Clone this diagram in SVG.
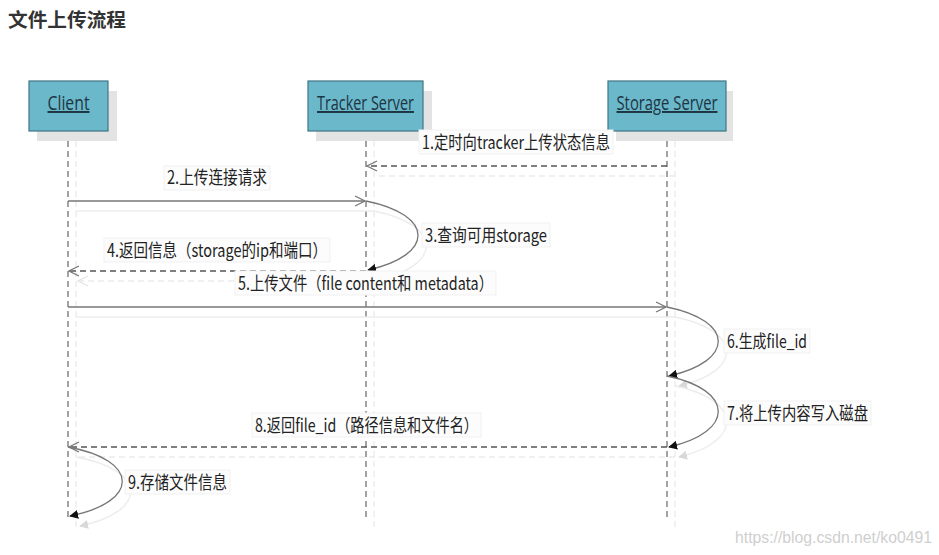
<svg xmlns="http://www.w3.org/2000/svg" width="939" height="555" viewBox="0 0 939 555">
<style>
.title{font-family:"Noto Sans CJK SC","Liberation Sans",sans-serif;font-size:19px;font-weight:bold;fill:#333}
.box{fill:#6bb8cb;stroke:#3f7584;stroke-width:1.2}
.shadow{fill:#e3e3e3}
.bt{font-family:"Open Sans","Liberation Sans",sans-serif;font-size:19.5px;fill:#1d3542;text-decoration:underline}
.life{stroke:#666;stroke-width:1.2;stroke-dasharray:6 4;fill:none}
.lifes{stroke:#e8e8e8;stroke-width:1.2;stroke-dasharray:6 4;fill:none}
.msg{stroke:#777;stroke-width:1.3;fill:none}
.msgd{stroke:#555;stroke-width:1.3;stroke-dasharray:6 4;fill:none}
.sh{stroke:#ececec;stroke-width:1.3;fill:none}
.shd{stroke:#ececec;stroke-width:1.3;stroke-dasharray:6 4;fill:none}
.lb{font-family:"Noto Sans CJK SC","Liberation Sans",sans-serif;font-size:18px;fill:#222}
.lbg{fill:#fcfcfc;stroke:#f1f1f1;stroke-width:1}
.wm{font-family:"Liberation Sans",sans-serif;font-size:16px;fill:#cfcfcf}
</style>
<defs>
<marker id="open" viewBox="0 0 12 12" refX="11" refY="6" markerWidth="12" markerHeight="12" markerUnits="userSpaceOnUse" orient="auto">
<path d="M1,1 L11,6 L1,11" fill="none" stroke="#777" stroke-width="1.2"/>
</marker>
<marker id="opens" viewBox="0 0 12 12" refX="11" refY="6" markerWidth="12" markerHeight="12" markerUnits="userSpaceOnUse" orient="auto">
<path d="M1,1 L11,6 L1,11" fill="none" stroke="#e4e4e4" stroke-width="1.2"/>
</marker>
<marker id="fill" viewBox="0 0 10 10" refX="9" refY="5" markerWidth="9" markerHeight="9" markerUnits="userSpaceOnUse" orient="auto">
<path d="M0,0 L10,5 L0,10 Z" fill="#111"/>
</marker>
<marker id="fills" viewBox="0 0 10 10" refX="9" refY="5" markerWidth="9" markerHeight="9" markerUnits="userSpaceOnUse" orient="auto">
<path d="M0,0 L10,5 L0,10 Z" fill="#d8d8d8"/>
</marker>
</defs>
<rect width="939" height="555" fill="#fff"/>
<text class="title" x="8" y="27" textLength="118" lengthAdjust="spacingAndGlyphs">文件上传流程</text>

<g id="lifelines">
<line class="lifes" x1="76" y1="141" x2="76" y2="527"/>
<line class="lifes" x1="374" y1="141" x2="374" y2="527"/>
<line class="lifes" x1="675" y1="141" x2="675" y2="527"/>
<line class="life" x1="68" y1="131" x2="68" y2="517"/>
<line class="life" x1="366" y1="131" x2="366" y2="517"/>
<line class="life" x1="667" y1="131" x2="667" y2="517"/>
</g>

<g id="client">
<rect class="shadow" x="37" y="91" width="80" height="50"/>
<rect class="box" x="29" y="81" width="79" height="50"/>
<text class="bt" x="68.5" y="110" text-anchor="middle" textLength="42" lengthAdjust="spacingAndGlyphs">Client</text>
</g>
<g id="tracker">
<rect class="shadow" x="316" y="91" width="116" height="50"/>
<rect class="box" x="308" y="81" width="115" height="50"/>
<text class="bt" x="365.5" y="110" text-anchor="middle" textLength="97" lengthAdjust="spacingAndGlyphs">Tracker Server</text>
</g>
<g id="storage">
<rect class="shadow" x="616" y="91" width="117" height="50"/>
<rect class="box" x="608" y="81" width="118" height="50"/>
<text class="bt" x="667" y="110" text-anchor="middle" textLength="101" lengthAdjust="spacingAndGlyphs">Storage Server</text>
</g>

<g id="connectors">
<line class="shd" x1="675" y1="176" x2="376" y2="176"/>
<line class="sh" x1="76" y1="211" x2="374" y2="211"/>
<path class="sh" d="M374,211 C443,225 443,265 378,280" marker-end="url(#fills)"/>
<line class="shd" x1="374" y1="281" x2="78" y2="281" marker-end="url(#opens)"/>
<line class="sh" x1="76" y1="317" x2="675" y2="317"/>
<path class="sh" d="M675,317 C743,331 743,371 679,386" marker-end="url(#fills)"/>
<path class="sh" d="M675,386 C743,400 743,442 679,457" marker-end="url(#fills)"/>
<line class="shd" x1="675" y1="457" x2="78" y2="457"/>
<path class="sh" d="M76,457 C148,470 148,512 80,526" marker-end="url(#fills)"/>
<line class="msgd" x1="667" y1="166" x2="367" y2="166" marker-end="url(#open)"/>
<line class="msg" x1="68" y1="201" x2="365" y2="201" marker-end="url(#open)"/>
<path class="msg" d="M366,201 C435,215 435,255 368,270" marker-end="url(#fill)"/>
<line class="msgd" x1="366" y1="271" x2="69" y2="271" marker-end="url(#open)"/>
<line class="msg" x1="68" y1="307" x2="666" y2="307" marker-end="url(#open)"/>
<path class="msg" d="M667,307 C735,321 735,361 669,376" marker-end="url(#fill)"/>
<path class="msg" d="M667,376 C735,390 735,432 669,447" marker-end="url(#fill)"/>
<line class="msgd" x1="667" y1="447" x2="69" y2="447" marker-end="url(#open)"/>
<path class="msg" d="M68,447 C140,460 140,502 70,516" marker-end="url(#fill)"/>
</g>

<g id="labels">
<rect class="lbg" x="419" y="130" width="194" height="24"/>
<text class="lb" x="422" y="149" textLength="188" lengthAdjust="spacingAndGlyphs">1.定时向tracker上传状态信息</text>
<rect class="lbg" x="164" y="166" width="106" height="24"/>
<text class="lb" x="167" y="184" textLength="100" lengthAdjust="spacingAndGlyphs">2.上传连接请求</text>
<rect class="lbg" x="422" y="223" width="128" height="24"/>
<text class="lb" x="425" y="242" textLength="122" lengthAdjust="spacingAndGlyphs">3.查询可用storage</text>
<rect class="lbg" x="104" y="238" width="226" height="24"/>
<text class="lb" x="107" y="257" textLength="220" lengthAdjust="spacingAndGlyphs">4.返回信息（storage的ip和端口）</text>
<rect class="lbg" x="235" y="271" width="261" height="24"/>
<text class="lb" x="238" y="290" textLength="255" lengthAdjust="spacingAndGlyphs">5.上传文件（file content和 metadata）</text>
<rect class="lbg" x="724" y="329" width="86" height="24"/>
<text class="lb" x="727" y="348" textLength="80" lengthAdjust="spacingAndGlyphs">6.生成file_id</text>
<rect class="lbg" x="724" y="401" width="147" height="24"/>
<text class="lb" x="727" y="420" textLength="141" lengthAdjust="spacingAndGlyphs">7.将上传内容写入磁盘</text>
<rect class="lbg" x="252" y="413" width="229" height="24"/>
<text class="lb" x="255" y="432" textLength="223" lengthAdjust="spacingAndGlyphs">8.返回file_id（路径信息和文件名）</text>
<rect class="lbg" x="125" y="470" width="105" height="24"/>
<text class="lb" x="128" y="489" textLength="99" lengthAdjust="spacingAndGlyphs">9.存储文件信息</text>
</g>
<text class="wm" x="735" y="543" textLength="197" lengthAdjust="spacingAndGlyphs">https://blog.csdn.net/ko0491</text>
</svg>
